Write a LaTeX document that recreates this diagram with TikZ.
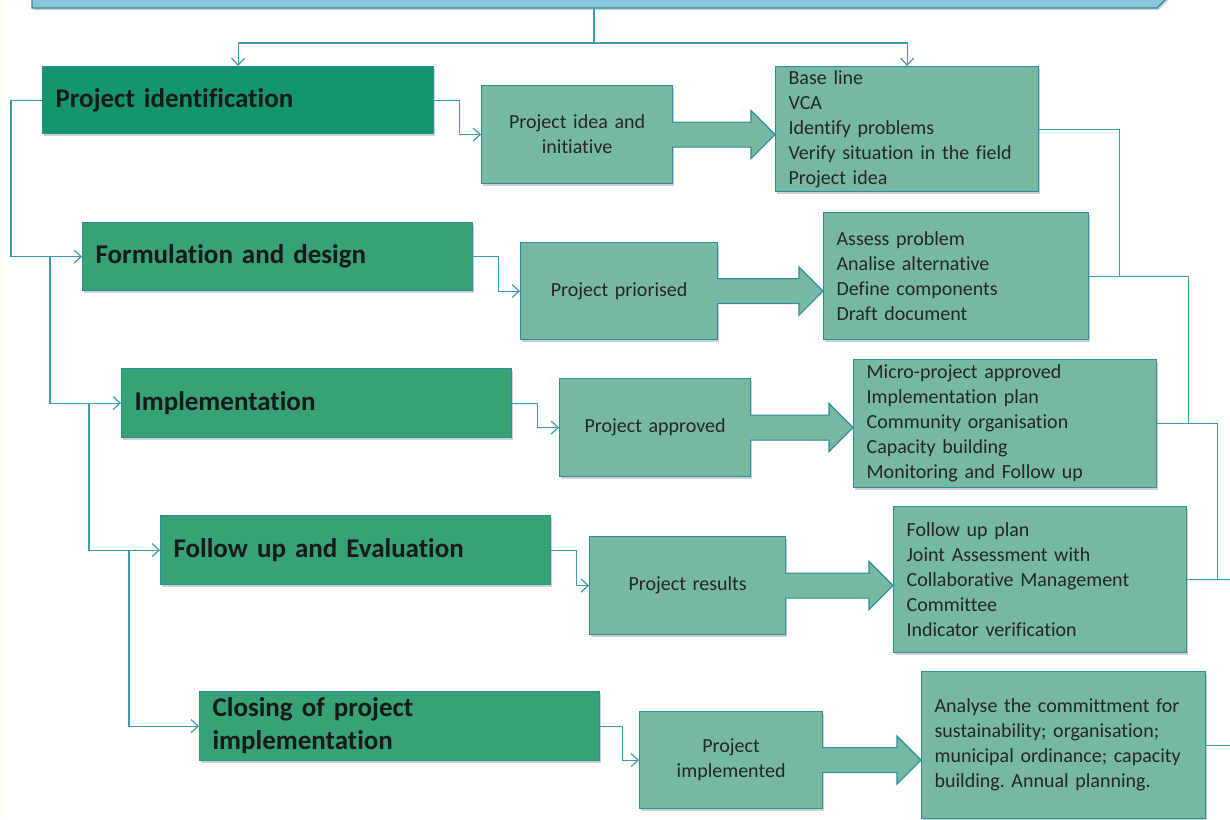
\documentclass[tikz,border=0pt]{standalone}
\usepackage{fontspec}
\setmainfont{Carlito}[Ligatures=NoCommon]
\usepackage{tikz}
\usetikzlibrary{arrows.meta,shadows,calc}
\frenchspacing

\definecolor{phasedark}{HTML}{13956E}
\definecolor{phase}{HTML}{36A275}
\definecolor{stage}{HTML}{76B8A2}
\definecolor{edge}{HTML}{2B8DA0}
\definecolor{wire}{HTML}{3D9BB1}
\definecolor{banner}{HTML}{8AC5D9}
\definecolor{cream}{HTML}{FFFBF0}

\newcommand\flowarrow[2]{%
  \filldraw[fill=stage,draw=edge,line width=1.2pt] let \p1=(#1.east),\p2=(#2.west) in
    (\x1-1pt,\y1+12.5pt) -- (\x2-24pt,\y1+12.5pt) -- (\x2-24pt,\y1+24pt) -- (\x2,\y1)
    -- (\x2-24pt,\y1-24pt) -- (\x2-24pt,\y1-12.5pt) -- (\x1-1pt,\y1-12.5pt);}

\begin{document}
\begin{tikzpicture}[x=1pt,y=-1pt,
    box/.style={draw=edge,line width=1.2pt,anchor=north west,inner xsep=13pt,inner ysep=0pt,
      drop shadow={shadow xshift=1.5pt,shadow yshift=-2pt,opacity=.3,fill=black!60}},
    phasebox/.style={box,fill=phase,align=left,text=black!90,
      font=\bfseries\fontsize{27}{33}\selectfont},
    stagebox/.style={box,fill=stage,align=center,text=black!85,font=\fontsize{20}{25}\selectfont},
    listbox/.style={box,fill=stage,align=left,text=black!85,font=\fontsize{20}{25}\selectfont},
    link/.style={draw=wire,line width=1.2pt,-{Straight Barb[length=7pt,width=13pt]}},
    joint/.style={draw=wire,line width=1.2pt}]
  \useasboundingbox (0,0) rectangle (1230,819);
  \clip (0,0) rectangle (1230,819);
  \fill[white] (0,0) rectangle (1230,819);
  \fill[cream] (0,0) rectangle (3,819);

  \filldraw[fill=banner,draw=edge,line width=1.2pt,
    drop shadow={shadow xshift=1.5pt,shadow yshift=-2pt,opacity=.3,fill=black!60}]
    (32,-40) -- (32,8) -- (1157,8) -- (1205,-40);
  \coordinate (hub) at (594,8);

  \node[phasebox,fill=phasedark,text width=365pt,minimum height=67pt] (pid) at (42,66) {Project identification};
  \node[phasebox,text width=364pt,minimum height=68pt] (form) at (82,222) {Formulation and design};
  \node[phasebox,text width=364pt,minimum height=69pt] (impl) at (121,368) {Implementation};
  \node[phasebox,text width=364pt,minimum height=69pt] (eval) at (160,515) {Follow up and Evaluation};
  \node[phasebox,text width=374pt,minimum height=69pt] (clos) at (199,691) {Closing of project\\implementation};

  \node[stagebox,text width=165pt,minimum height=98pt] (idea) at (481,85) {Project idea and\\initiative};
  \node[stagebox,text width=171pt,minimum height=97pt] (prio) at (520,242) {Project priorised};
  \node[stagebox,text width=165pt,minimum height=98pt] (appr) at (559,378) {Project approved};
  \node[stagebox,text width=170pt,minimum height=98pt] (res) at (589,536) {Project results};
  \node[stagebox,text width=157pt,minimum height=97pt] (done) at (639,711) {Project\\implemented};

  \node[listbox,text width=237pt,minimum height=125pt] (base) at (775,66)
    {Base line\\VCA\\Identify problems\\Verify situation in the field\\Project idea};
  \node[listbox,text width=239pt,minimum height=127pt] (assess) at (823,212)
    {Assess problem\\Analise alternative\\Define components\\Draft document};
  \node[listbox,text width=277pt,minimum height=128pt] (micro) at (853,359)
    {Micro-project approved\\Implementation plan\\Community organisation\\Capacity building\\Monitoring and Follow up};
  \node[listbox,text width=267pt,minimum height=146pt] (follow) at (893,506)
    {Follow up plan\\Joint Assessment with\\Collaborative Management\\Committee\\Indicator verification};
  \node[listbox,text width=258pt,minimum height=147pt] (analyse) at (921,671)
    {Analyse the committment for\\sustainability; organisation;\\municipal ordinance; capacity\\building. Annual planning.};

  \flowarrow{idea}{base}
  \flowarrow{prio}{assess}
  \flowarrow{appr}{micro}
  \flowarrow{res}{follow}
  \flowarrow{done}{analyse}

  \draw[link] (hub) -- ++(0,35) -| (pid.north);
  \draw[link] (hub) -- ++(0,35) -| (base.north);

  \draw[link] (pid.west) -- ++(-31,0) |- (form.west);
  \draw[link] ([xshift=-32pt]form.west) |- (impl.west);
  \draw[link] ([xshift=-32pt]impl.west) |- (eval.west);
  \draw[link] ([xshift=-31pt]eval.west) |- (clos.west);

  \draw[link] (pid.east) -- ++(25,0) |- (idea.west);
  \draw[link] (form.east) -- ++(25,0) |- (prio.west);
  \draw[link] (impl.east) -- ++(25,0) |- (appr.west);
  \draw[link] (eval.east) -- ++(25,0) |- (res.west);
  \draw[link] (clos.east) -- ++(22,0) |- (done.west);

  \draw[joint] (base.east) -| ([xshift=30pt]assess.east);
  \draw[joint] (assess.east) -| ([xshift=31pt]micro.east);
  \draw[joint] (micro.east) -| ([xshift=30pt]follow.east);
  \draw[joint] (follow.east) -- ++(44,0);
  \draw[joint] (analyse.east) -- ++(25,0);
\end{tikzpicture}
\end{document}
